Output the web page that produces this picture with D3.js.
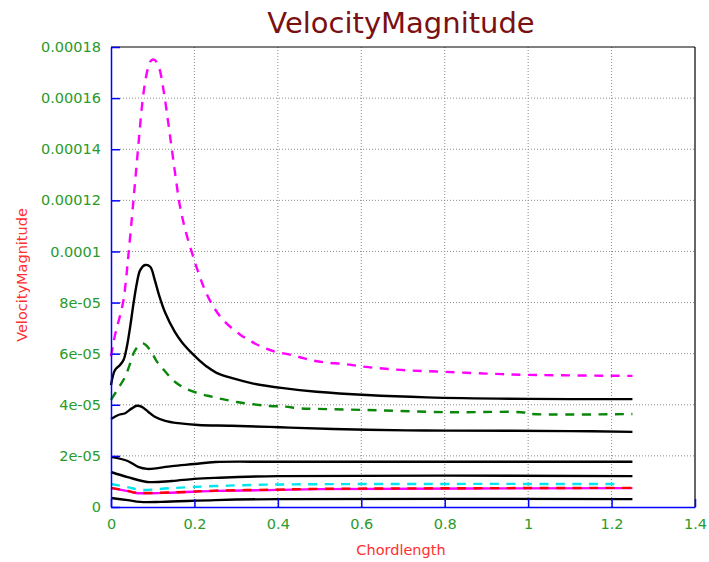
<!DOCTYPE html>
<html>
<head>
<meta charset="utf-8">
<script src="https://cdn.jsdelivr.net/npm/d3@7"></script>
<style>
  html, body { margin: 0; padding: 0; background: #ffffff; }
  svg { display: block; font-family: "DejaVu Sans", sans-serif; }
</style>
</head>
<body>
<svg id="chart" width="709" height="562"></svg>
<script>
// ---- data (series values in units of 1e-5) ----
const xTickValues = [0, 0.2, 0.4, 0.6, 0.8, 1.0, 1.2, 1.4];
const xTickLabels = ["0", "0.2", "0.4", "0.6", "0.8", "1", "1.2", "1.4"];
const yTickValues = [0, 2e-5, 4e-5, 6e-5, 8e-5, 1e-4, 1.2e-4, 1.4e-4, 1.6e-4, 1.8e-4];
const yTickLabels = ["0", "2e-05", "4e-05", "6e-05", "8e-05", "0.0001", "0.00012", "0.00014", "0.00016", "0.00018"];

const magentaDashX = [0, 0.005, 0.012, 0.022, 0.03, 0.036, 0.042, 0.05, 0.056, 0.062, 0.068, 0.075, 0.082, 0.09, 0.097, 0.104, 0.115, 0.125, 0.135, 0.145, 0.155, 0.165, 0.178, 0.194, 0.21, 0.225, 0.245, 0.27, 0.309, 0.337, 0.361, 0.393, 0.421, 0.453, 0.485, 0.517, 0.557, 0.593, 0.629, 0.665, 0.705, 0.745, 0.781, 0.9, 1.0, 1.25];
const magentaDashY = [5.9, 6.35, 6.9, 7.5, 8.1, 8.9, 9.9, 11.3, 12.4, 13.5, 14.6, 15.8, 16.65, 17.25, 17.48, 17.5, 17.2, 16.4, 15.3, 14.1, 12.9, 11.8, 10.85, 9.95, 9.15, 8.5, 7.85, 7.3, 6.75, 6.47, 6.27, 6.08, 5.99, 5.86, 5.73, 5.65, 5.6, 5.52, 5.45, 5.4, 5.35, 5.32, 5.3, 5.22, 5.17, 5.13];

const blackPeakX = [0, 0.0096, 0.0216, 0.03, 0.038, 0.046, 0.054, 0.062, 0.07, 0.082, 0.094, 0.105, 0.115, 0.13, 0.153, 0.17, 0.195, 0.213, 0.229, 0.253, 0.293, 0.341, 0.413, 0.493, 0.613, 0.757, 1.0, 1.25];
const blackPeakY = [4.77, 5.36, 5.56, 5.75, 6.27, 7.06, 7.97, 8.76, 9.27, 9.47, 9.4, 8.88, 8.3, 7.6, 6.85, 6.45, 6.0, 5.72, 5.5, 5.25, 5.03, 4.83, 4.65, 4.51, 4.38, 4.29, 4.23, 4.22];

const greenDashX = [0, 0.0176, 0.034, 0.046, 0.058, 0.077, 0.094, 0.11, 0.13, 0.153, 0.177, 0.209, 0.241, 0.273, 0.305, 0.341, 0.381, 0.417, 0.453, 0.493, 0.6, 0.805, 0.99, 1.0, 1.25];
const greenDashY = [4.19, 4.65, 5.1, 5.62, 6.14, 6.4, 6.14, 5.69, 5.3, 4.9, 4.65, 4.45, 4.32, 4.2, 4.1, 4.02, 3.95, 3.93, 3.86, 3.84, 3.8, 3.71, 3.7, 3.65, 3.64];

const blackMidX = [0, 0.0176, 0.034, 0.05, 0.062, 0.074, 0.089, 0.105, 0.13, 0.161, 0.209, 0.289, 0.405, 0.533, 0.709, 0.809, 1.1, 1.25];
const blackMidY = [3.44, 3.6, 3.67, 3.86, 3.96, 3.92, 3.73, 3.53, 3.37, 3.28, 3.21, 3.18, 3.12, 3.05, 3.0, 2.99, 2.97, 2.94];

const blackLow1X = [0, 0.04, 0.065, 0.087, 0.146, 0.2, 0.25, 0.4, 1.25];
const blackLow1Y = [1.96, 1.8, 1.57, 1.49, 1.6, 1.68, 1.76, 1.77, 1.77];

const blackLow2X = [0, 0.04, 0.087, 0.146, 0.2, 0.25, 0.4, 1.25];
const blackLow2Y = [1.37, 1.17, 0.98, 1.02, 1.1, 1.14, 1.21, 1.21];

const cyanDashX = [0, 0.04, 0.07, 0.146, 0.25, 0.4, 1.22];
const cyanDashY = [0.9, 0.78, 0.67, 0.74, 0.82, 0.88, 0.9];

const magentaSolidX = [0, 0.04, 0.06, 0.146, 0.25, 0.4, 0.5, 1.25];
const magentaSolidY = [0.74, 0.62, 0.55, 0.56, 0.63, 0.67, 0.7, 0.74];

const redDashX = [0, 0.04, 0.06, 0.146, 0.25, 0.4, 0.5, 1.25];
const redDashY = [0.75, 0.63, 0.56, 0.57, 0.64, 0.68, 0.71, 0.75];

const blackBottomX = [0, 0.04, 0.07, 0.12, 0.25, 0.4, 1.25];
const blackBottomY = [0.35, 0.27, 0.2, 0.2, 0.27, 0.31, 0.31];

const series = [
  { x: blackBottomX, y: blackBottomY, color: "#000000", dash: null },
  { x: magentaSolidX, y: magentaSolidY, color: "#ff00ff", dash: null },
  { x: redDashX, y: redDashY, color: "#ff0000", dash: "9,7.5" },
  { x: cyanDashX, y: cyanDashY, color: "#00e5ee", dash: "9,7.5" },
  { x: blackLow2X, y: blackLow2Y, color: "#000000", dash: null },
  { x: blackLow1X, y: blackLow1Y, color: "#000000", dash: null },
  { x: blackMidX, y: blackMidY, color: "#000000", dash: null },
  { x: greenDashX, y: greenDashY, color: "#0a870a", dash: "9,7.5" },
  { x: blackPeakX, y: blackPeakY, color: "#000000", dash: null },
  { x: magentaDashX, y: magentaDashY, color: "#ff00ff", dash: "9,7.5" }
];

// ---- layout ----
const L = 111, R = 695, T = 47, B = 507;
const svg = d3.select("#chart");
const x = d3.scaleLinear().domain([0, 1.4]).range([L, R]);
const y = d3.scaleLinear().domain([0, 1.8e-4]).range([B, T]);

// grid
const grid = svg.append("g");
grid.selectAll("line.gx").data(xTickValues.slice(1, -1)).enter().append("line")
  .attr("x1", d => x(d)).attr("x2", d => x(d)).attr("y1", T).attr("y2", B)
  .attr("stroke", "#8c8c8c").attr("stroke-width", 1).attr("stroke-dasharray", "1,2");
grid.selectAll("line.gy").data(yTickValues.slice(1, -1)).enter().append("line")
  .attr("y1", d => y(d)).attr("y2", d => y(d)).attr("x1", L).attr("x2", R)
  .attr("stroke", "#8c8c8c").attr("stroke-width", 1).attr("stroke-dasharray", "1,2");

// top/right border
svg.append("line").attr("x1", L).attr("x2", R).attr("y1", T).attr("y2", T).attr("stroke", "#000").attr("stroke-width", 1.2);
svg.append("line").attr("x1", R).attr("x2", R).attr("y1", T).attr("y2", B).attr("stroke", "#000").attr("stroke-width", 1.2);

// series
const line = d3.line().x(d => x(d[0])).y(d => y(d[1] * 1e-5)).curve(d3.curveCatmullRom.alpha(0.5));
const gLines = svg.append("g");
series.forEach(s => {
  const pts = s.x.map((v, i) => [v, s.y[i]]);
  const p = gLines.append("path").datum(pts)
    .attr("d", line).attr("fill", "none")
    .attr("stroke", s.color).attr("stroke-width", 2.4)
    .attr("stroke-linejoin", "round");
  if (s.dash) p.attr("stroke-dasharray", s.dash);
});

// axes
const green = "#2a9a2a";
const xAxis = d3.axisBottom(x).tickValues(xTickValues)
  .tickFormat((d, i) => xTickLabels[i]).tickSizeInner(-8).tickSizeOuter(0).tickPadding(12);
const gx = svg.append("g").attr("transform", `translate(0,${B})`).call(xAxis);
gx.select(".domain").attr("stroke", "#0000ff").attr("stroke-width", 1.5);
gx.selectAll(".tick line").attr("stroke", "#0000ff").attr("stroke-width", 1.5);
gx.selectAll(".tick text").attr("fill", green).attr("font-size", "14.5px").attr("font-family", "DejaVu Sans");

const yAxis = d3.axisLeft(y).tickValues(yTickValues)
  .tickFormat((d, i) => yTickLabels[i]).tickSizeInner(-9).tickSizeOuter(0).tickPadding(10);
const gy = svg.append("g").attr("transform", `translate(${L},0)`).call(yAxis);
gy.select(".domain").attr("stroke", "#0000ff").attr("stroke-width", 1.5);
gy.selectAll(".tick line").attr("stroke", "#0000ff").attr("stroke-width", 1.5);
gy.selectAll(".tick text").attr("fill", green).attr("font-size", "14.5px").attr("font-family", "DejaVu Sans");

// titles
svg.append("text").attr("x", 401).attr("y", 33).attr("text-anchor", "middle")
  .attr("fill", "#7a1010").attr("font-size", "29px").text("VelocityMagnitude");
svg.append("text").attr("x", 401).attr("y", 555).attr("text-anchor", "middle")
  .attr("fill", "#ff3030").attr("font-size", "14.5px").text("Chordlength");
svg.append("text").attr("transform", "translate(27,275) rotate(-90)").attr("text-anchor", "middle")
  .attr("fill", "#ff3030").attr("font-size", "14.5px").text("VelocityMagnitude");
</script>
</body>
</html>
